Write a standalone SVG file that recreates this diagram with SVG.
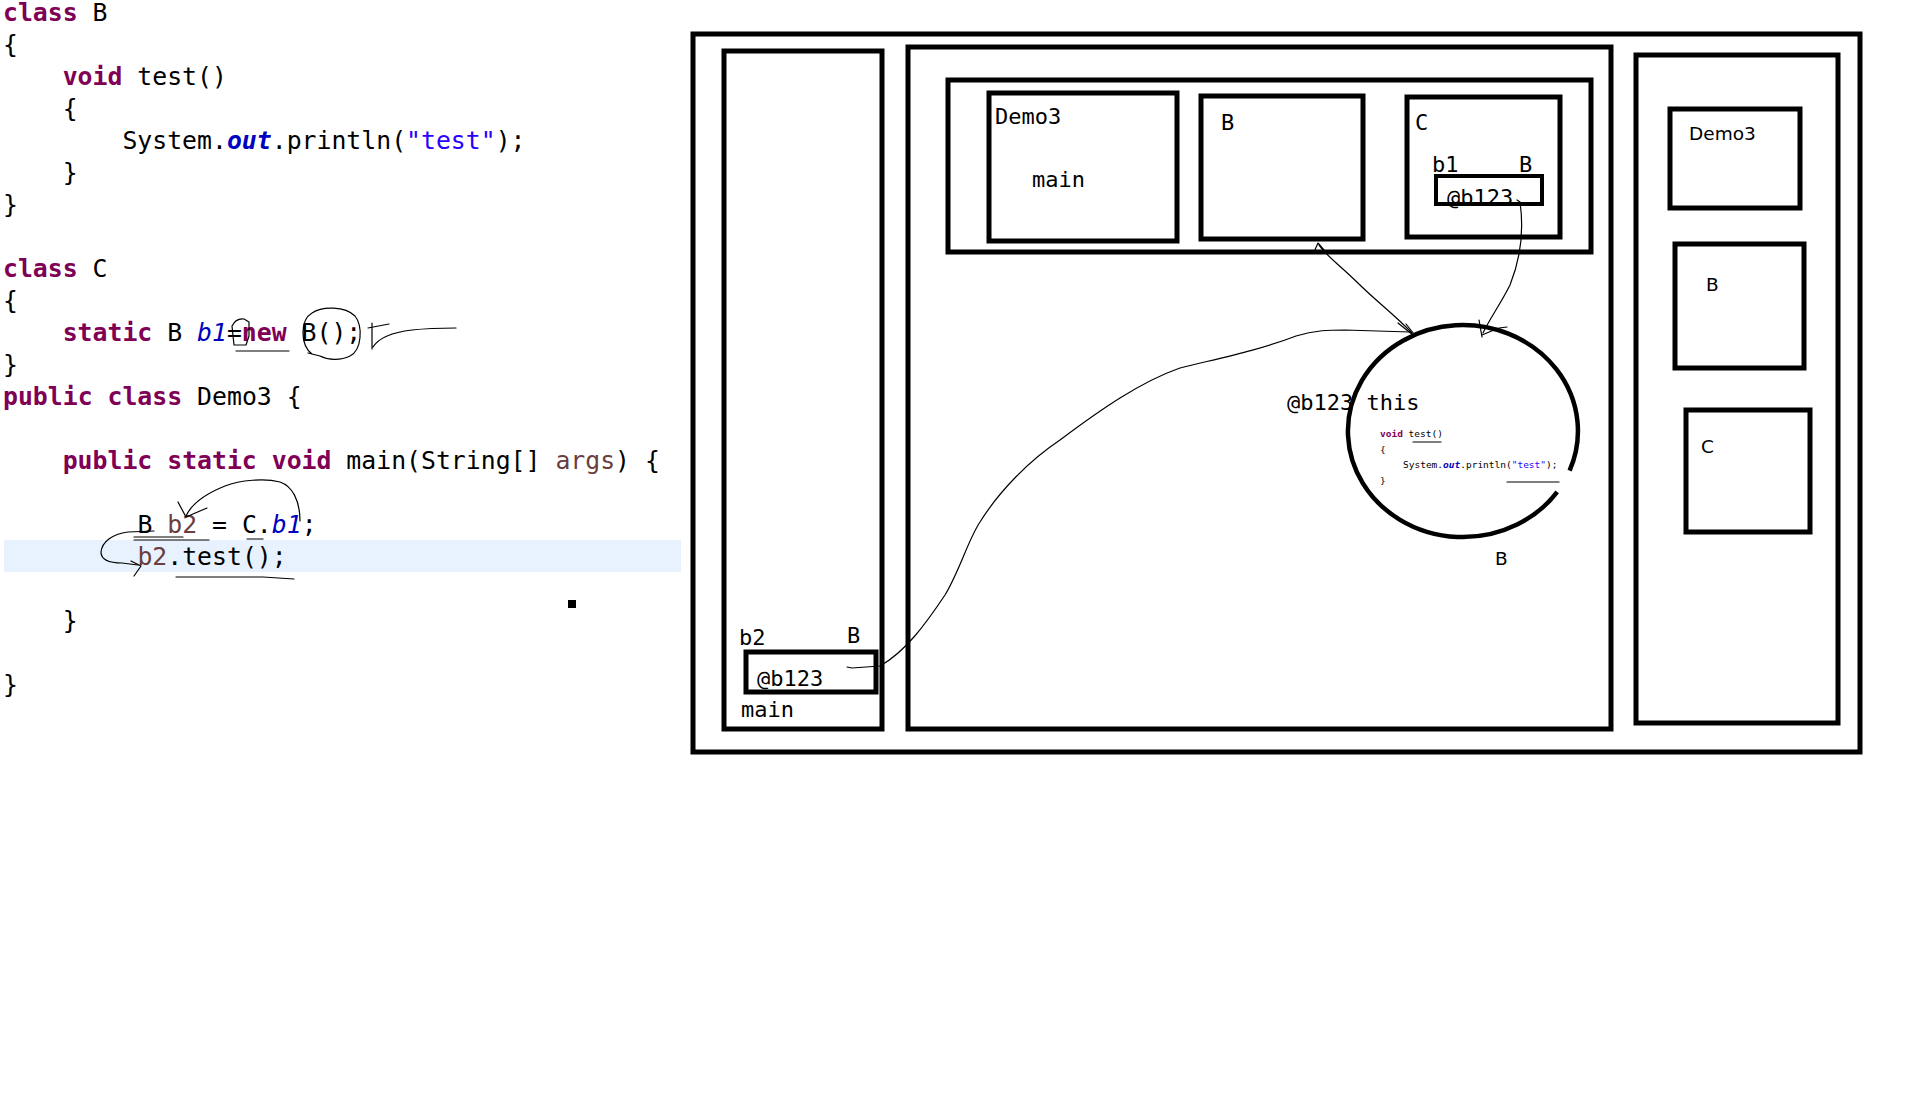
<svg xmlns="http://www.w3.org/2000/svg" width="1917" height="1095" viewBox="0 0 1917 1095">
<style>
.code{font-family:"DejaVu Sans Mono","Liberation Mono",monospace;font-size:24.8px;fill:#000}
.kw{fill:#7F0055;font-weight:bold}
.fld{fill:#0000C0;font-style:italic}
.str{fill:#2A00FF}
.loc{fill:#6A3E3E}
.box{fill:none;stroke:#000;stroke-width:5}
.lbl{font-family:"DejaVu Sans Mono",monospace;font-size:22px;fill:#000}
.sans{font-family:"DejaVu Sans",sans-serif;font-size:18.5px;fill:#000}
.ink{fill:none;stroke:#000;stroke-width:1.2;stroke-linecap:round;stroke-linejoin:round}
.mini{font-family:"DejaVu Sans Mono",monospace;font-size:9.5px;fill:#000}
</style>
<rect width="1917" height="1095" fill="#fff"/>

<g id="code">
<rect x="4" y="540" width="677" height="32" fill="#E8F2FE"/>
<text class="code" xml:space="preserve" x="3" y="21"><tspan class="kw">class</tspan> B</text>
<text class="code" x="3" y="53">{</text>
<text class="code" xml:space="preserve" x="62.7" y="85"><tspan class="kw">void</tspan> test()</text>
<text class="code" x="62.7" y="117">{</text>
<text class="code" xml:space="preserve" x="122.4" y="149">System.<tspan class="fld" font-weight="bold">out</tspan>.println(<tspan class="str">"test"</tspan>);</text>
<text class="code" x="62.7" y="181">}</text>
<text class="code" x="3" y="213">}</text>
<text class="code" xml:space="preserve" x="3" y="277"><tspan class="kw">class</tspan> C</text>
<text class="code" x="3" y="309">{</text>
<text class="code" xml:space="preserve" x="62.7" y="341"><tspan class="kw">static</tspan> B <tspan class="fld">b1</tspan>=<tspan class="kw">new</tspan> B();</text>
<text class="code" x="3" y="373">}</text>
<text class="code" xml:space="preserve" x="3" y="405"><tspan class="kw">public</tspan> <tspan class="kw">class</tspan> Demo3 {</text>
<text class="code" xml:space="preserve" x="62.7" y="469"><tspan class="kw">public</tspan> <tspan class="kw">static</tspan> <tspan class="kw">void</tspan> main(String[] <tspan class="loc">args</tspan>) {</text>
<text class="code" xml:space="preserve" x="137.4" y="533">B <tspan class="loc">b2</tspan> = C.<tspan class="fld">b1</tspan>;</text>
<text class="code" xml:space="preserve" x="137.4" y="565"><tspan class="loc">b2</tspan>.test();</text>
<text class="code" x="62.7" y="629">}</text>
<text class="code" x="3" y="693">}</text>
<rect x="568" y="600" width="8" height="8" fill="#000"/>
</g>

<g id="code-annotations" class="ink">
<path d="M 234 345 L 232 326 Q 236 318 244 319 L 249 322 L 249 336 L 246 345 L 234 345"/>
<path d="M 236 351 L 289 351"/>
<path d="M 312 354 C 300 345 300 320 312 313 C 322 306 345 306 355 316 C 363 326 362 350 350 356 C 340 361 328 360 320 356 L 308 353"/>
<path d="M 372 323 L 372 349 M 368 328 L 389 324 M 373 347 C 380 336 395 332 412 330 C 430 328 445 328 456 328"/>
<path d="M 300 521 C 300 500 292 486 280 482 C 265 478 240 480 225 486 C 205 494 192 503 186 516"/>
<path d="M 178 502 L 186 517 L 207 508"/>
<path d="M 154 531 L 128 532 C 112 534 102 542 101 552 C 101 560 108 563 122 563 L 138 565"/>
<path d="M 131 561 L 141 566 L 134 576"/>
<path d="M 134 537 L 183 537 M 134 540 L 209 540"/>
<path d="M 247 539 L 263 539"/>
<path d="M 176 577 L 263 577 L 294 579"/>
</g>

<g id="memory-frame">
<rect class="box" x="693" y="34" width="1167" height="718"/>
</g>

<g id="stack">
<rect class="box" x="724" y="51" width="158" height="678"/>
<text class="lbl" x="739" y="645">b2</text>
<text class="lbl" x="847" y="643">B</text>
<text class="lbl" x="757" y="686">@b123</text>
<text class="lbl" x="741" y="717">main</text>
<rect class="box" x="746" y="652" width="130" height="40"/>
</g>

<g id="heap">
<rect class="box" x="908" y="47" width="703" height="682"/>
</g>

<g id="method-area">
<rect class="box" x="948" y="80" width="643" height="172"/>
</g>

<g id="class-demo3">
<rect class="box" x="989" y="93" width="188" height="148"/>
<text class="lbl" x="995" y="124">Demo3</text>
<text class="lbl" x="1032" y="187">main</text>
</g>

<g id="class-b">
<rect class="box" x="1201" y="96" width="162" height="143"/>
<text class="lbl" x="1221" y="130">B</text>
</g>

<g id="class-c">
<rect class="box" x="1407" y="97" width="153" height="140"/>
<text class="lbl" x="1415" y="130">C</text>
<text class="lbl" x="1432" y="172">b1</text>
<text class="lbl" x="1519" y="172">B</text>
<text class="lbl" x="1447" y="205">@b123</text>
<rect x="1436" y="176" width="106" height="28" fill="none" stroke="#000" stroke-width="4"/>
</g>

<g id="object-b">
<path d="M 1557.2 491.8 A 115 106 0 1 1 1569.6 470.7" fill="none" stroke="#000" stroke-width="4.5"/>
<text class="lbl" x="1287" y="410">@b123 this</text>
<text class="mini" xml:space="preserve" x="1380" y="437"><tspan class="kw">void</tspan> test()</text>
<text class="mini" x="1380" y="453">{</text>
<text class="mini" xml:space="preserve" x="1403" y="468">System.<tspan class="fld" font-weight="bold">out</tspan>.println(<tspan class="str">"test"</tspan>);</text>
<text class="mini" x="1380" y="484">}</text>
<path class="ink" d="M 1413 442 L 1441 442 M 1507 482 L 1559 482"/>
<text class="sans" x="1495" y="565" font-size="20">B</text>
</g>

<g id="static-area">
<rect class="box" x="1636" y="55" width="202" height="668"/>
<rect class="box" x="1670" y="109" width="130" height="99"/>
<text class="sans" x="1689" y="140">Demo3</text>
<rect class="box" x="1675" y="244" width="129" height="124"/>
<text class="sans" x="1706" y="291">B</text>
<rect class="box" x="1686" y="410" width="124" height="122"/>
<text class="sans" x="1701" y="453">C</text>
</g>

<g id="connectors" class="ink">
<path d="M 847 667 L 852 668 L 880 666 C 905 652 925 625 945 595 C 960 570 968 540 980 522 C 1000 490 1030 460 1060 440 C 1100 410 1140 382 1180 368 C 1220 358 1260 350 1296 336 C 1315 330 1330 330 1345 330 L 1410 332"/>
<path d="M 1398 323 L 1413 335 M 1406 324 L 1414 334 M 1413 336 L 1406 341"/>
<path d="M 1412 333 C 1395 315 1375 300 1360 285 C 1340 265 1325 255 1319 245"/>
<path d="M 1314 252 L 1318 243 L 1324 250"/>
<path d="M 1517 200 L 1520 202 C 1524 230 1520 260 1510 285 C 1500 305 1490 318 1483 333"/>
<path d="M 1479 320 L 1482 337 M 1482 335 L 1494 330 M 1499 328 L 1507 327"/>
</g>
</svg>
